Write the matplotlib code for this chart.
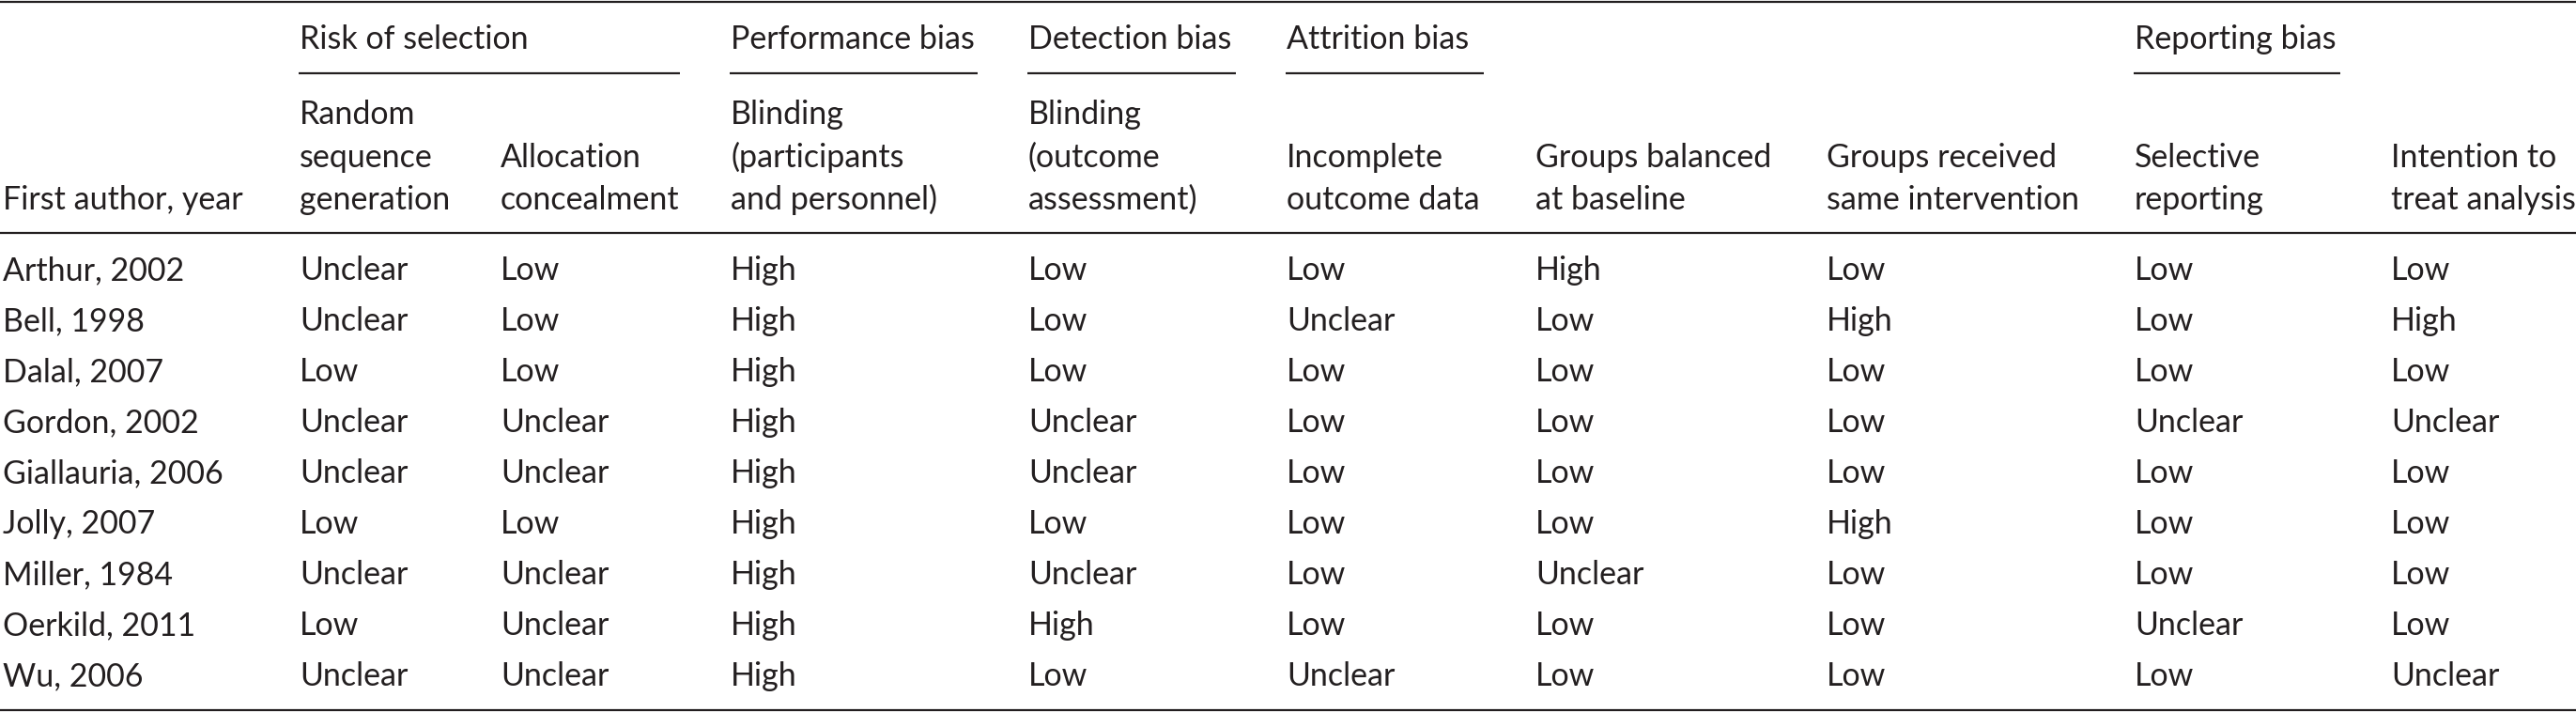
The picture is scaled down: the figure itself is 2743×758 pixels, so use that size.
import matplotlib
matplotlib.use('Agg')
import matplotlib.pyplot as plt

# table content
studies = ['Arthur, 2002', 'Bell, 1998', 'Dalal, 2007', 'Gordon, 2002',
           'Giallauria, 2006', 'Jolly, 2007', 'Miller, 1984', 'Oerkild, 2011',
           'Wu, 2006']

random_sequence = ['Unclear', 'Unclear', 'Low', 'Unclear', 'Unclear', 'Low', 'Unclear', 'Low', 'Unclear']
allocation = ['Low', 'Low', 'Low', 'Unclear', 'Unclear', 'Low', 'Unclear', 'Unclear', 'Unclear']
blinding_part = ['High'] * 9
blinding_outcome = ['Low', 'Low', 'Low', 'Unclear', 'Unclear', 'Low', 'Unclear', 'High', 'Low']
incomplete_data = ['Low', 'Unclear', 'Low', 'Low', 'Low', 'Low', 'Low', 'Low', 'Unclear']
balanced_baseline = ['High', 'Low', 'Low', 'Low', 'Low', 'Low', 'Unclear', 'Low', 'Low']
same_intervention = ['Low', 'High', 'Low', 'Low', 'Low', 'High', 'Low', 'Low', 'Low']
selective_reporting = ['Low', 'Low', 'Low', 'Unclear', 'Low', 'Low', 'Low', 'Unclear', 'Low']
intention_to_treat = ['Low', 'High', 'Low', 'Unclear', 'Low', 'Low', 'Low', 'Low', 'Unclear']

col_headers = [
    ['First author, year'],
    ['Random', 'sequence', 'generation'],
    ['Allocation', 'concealment'],
    ['Blinding', '(participants', 'and personnel)'],
    ['Blinding', '(outcome', 'assessment)'],
    ['Incomplete', 'outcome data'],
    ['Groups balanced', 'at baseline'],
    ['Groups received', 'same intervention'],
    ['Selective', 'reporting'],
    ['Intention to', 'treat analysis'],
]

# group label, first column, last column
groups = [('Risk of selection', 1, 2), ('Performance bias', 3, 3),
          ('Detection bias', 4, 4), ('Attrition bias', 5, 5),
          ('Reporting bias', 8, 8)]

columns = [studies, random_sequence, allocation, blinding_part, blinding_outcome,
           incomplete_data, balanced_baseline, same_intervention,
           selective_reporting, intention_to_treat]

# layout in pixels
W, H = 2743, 758
col_x = [3, 319, 533, 778, 1095, 1370, 1635, 1945, 2273, 2546]
group_line_end = {2: 724, 3: 1041, 4: 1316, 5: 1580, 8: 2492}
ink = '#231f20'
fs = 24.5
lw = 1.6

fig = plt.figure(figsize=(W / 100, H / 100), dpi=100)
ax = fig.add_axes([0, 0, 1, 1])
ax.set_xlim(0, W)
ax.set_ylim(H, 0)
ax.axis('off')

def txt(x, y, s):
    ax.text(x, y, s, fontsize=fs, color=ink, family='Lato',
            ha='left', va='baseline')

# rules
for y in [1.5, 248, 756]:
    ax.plot([0, W], [y, y], color=ink, lw=lw, solid_capstyle='butt')

# group headers
for label, c0, c1 in groups:
    txt(col_x[c0], 52, label)
    ax.plot([col_x[c0] - 1, group_line_end[c1]], [78, 78], color=ink, lw=lw,
            solid_capstyle='butt')

# column headers, bottom aligned
for x, lines in zip(col_x, col_headers):
    for k, line in enumerate(reversed(lines)):
        txt(x, 223 - 45.5 * k, line)

# body
for i in range(len(studies)):
    y = 298 + 54 * i
    for x, col in zip(col_x, columns):
        txt(x, y, col[i])

fig.savefig('out.png', dpi=100)
plt.close(fig)
